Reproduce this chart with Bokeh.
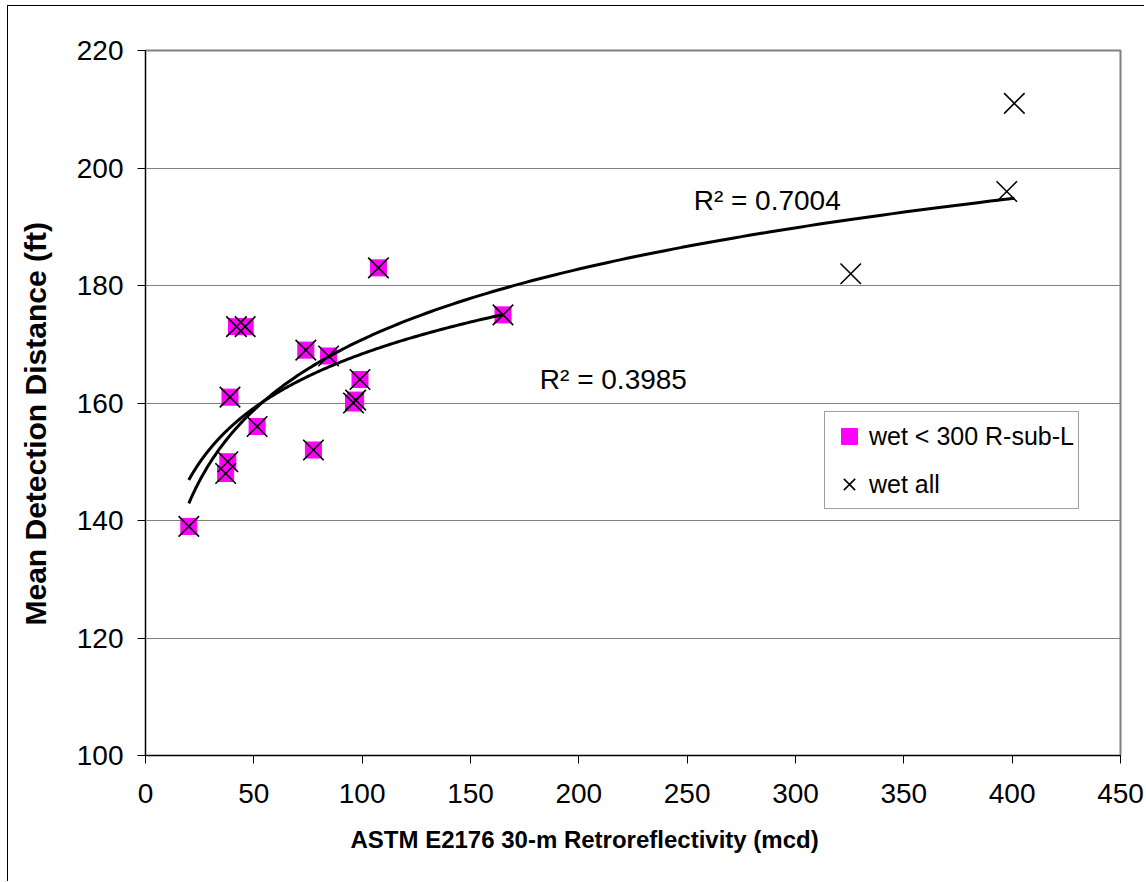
import numpy as np
from bokeh.plotting import figure
from bokeh.models import Legend, LegendItem, Label, FixedTicker, Range1d, Title
from bokeh.embed import file_html
from bokeh.resources import INLINE

# ---- data ----
wet300_x = [20, 37, 38, 39, 42, 46, 51.5, 74, 77.5, 84.5, 96, 97, 99, 107.5, 165]
wet300_y = [139, 148, 150, 161, 173, 173, 156, 169, 152, 168, 160, 160.5, 164, 183, 175]
extra_x = [325.5, 397.5, 401]
extra_y = [182, 196, 211]
wetall_x = wet300_x + extra_x
wetall_y = wet300_y + extra_y

series_names = ["wet < 300 R-sub-L", "wet all"]
r2_texts = ["R² = 0.7004", "R² = 0.3985"]
x_ticks = [0, 50, 100, 150, 200, 250, 300, 350, 400, 450]
y_ticks = [100, 120, 140, 160, 180, 200, 220]
x_title = "ASTM E2176 30-m Retroreflectivity (mcd)"
y_title = "Mean Detection Distance (ft)"


def log_trend(xs, ys, n=200):
    xs = np.asarray(xs, float)
    ys = np.asarray(ys, float)
    a, b = np.polyfit(np.log(xs), ys, 1)
    xx = np.exp(np.linspace(np.log(xs.min()), np.log(xs.max()), n))
    return xx, a * np.log(xx) + b


FONT = "Liberation Sans"

p = figure(frame_width=975, frame_height=705,
           x_range=Range1d(0, 450), y_range=Range1d(100, 220),
           output_backend="svg", toolbar_location=None,
           min_border_left=137, min_border_top=44,
           min_border_right=24, min_border_bottom=126,
           background_fill_color="white", border_fill_color="white",
           outline_line_color="#808080", outline_line_width=2,
           styles={"border-left": "1px solid #000", "border-top": "1px solid #000",
                   "margin-left": "7px", "margin-top": "5px"})

# axes
for ax in (p.xaxis[0], p.yaxis[0]):
    ax.axis_line_color = "black"
    ax.axis_line_width = 1
    ax.major_tick_line_color = "black"
    ax.major_tick_in = 0
    ax.major_tick_out = 8
    ax.minor_tick_out = 0
    ax.minor_tick_in = 0
    ax.major_label_text_font = FONT
    ax.major_label_text_font_size = "28px"
    ax.major_label_text_color = "black"

p.xaxis.ticker = FixedTicker(ticks=x_ticks)
p.yaxis.ticker = FixedTicker(ticks=y_ticks)
p.xaxis.major_label_standoff = 20
p.yaxis.major_label_standoff = 14

# y title as axis label (padded with no-break spaces to sit lower, as in the original)
p.yaxis.axis_label = y_title + "\u00a0" * 5
p.yaxis.axis_label_text_font = FONT
p.yaxis.axis_label_text_font_style = "bold"
p.yaxis.axis_label_text_font_size = "30px"
p.yaxis.axis_label_text_color = "black"
p.yaxis.axis_label_standoff = 22

# x title
p.add_layout(Title(text=x_title, align="left", offset=205, vertical_align="top",
                   standoff=40, text_font=FONT,
                   text_font_style="bold", text_font_size="24px",
                   text_color="black"), "below")

p.xgrid.visible = False
p.ygrid.grid_line_color = "#808080"
p.ygrid.grid_line_width = 1

# points
sq = p.scatter(wet300_x, wet300_y, marker="square", size=16,
               fill_color="#FF00FF", line_color="#FF00FF")
xr = p.scatter(wetall_x, wetall_y, marker="x", size=29,
               line_color="black", line_width=1.6)

# trend lines (logarithmic fits of each series)
tx1, ty1 = log_trend(wetall_x, wetall_y)
tx2, ty2 = log_trend(wet300_x, wet300_y)
p.line(tx1, ty1, line_color="black", line_width=3)
p.line(tx2, ty2, line_color="black", line_width=3)

# R^2 labels
p.add_layout(Label(x=253, y=194.5, text=r2_texts[0], text_font=FONT, text_color="black",
                   text_font_size="28px", text_baseline="middle", text_align="left"))
p.add_layout(Label(x=182, y=164.0, text=r2_texts[1], text_font=FONT, text_color="black",
                   text_font_size="28px", text_baseline="middle", text_align="left"))

legend = Legend(items=[LegendItem(label=series_names[0], renderers=[sq]),
                       LegendItem(label=series_names[1], renderers=[xr])],
                location=(679, 246), padding=4, spacing=8, margin=0,
                glyph_width=40, glyph_height=40, label_standoff=0,
                label_text_font=FONT, label_text_font_size="25px",
                label_text_color="black",
                border_line_color="#404040", border_line_width=1,
                background_fill_color="white", background_fill_alpha=1)
p.add_layout(legend)

open("out.html", "w").write(file_html(p, INLINE))
